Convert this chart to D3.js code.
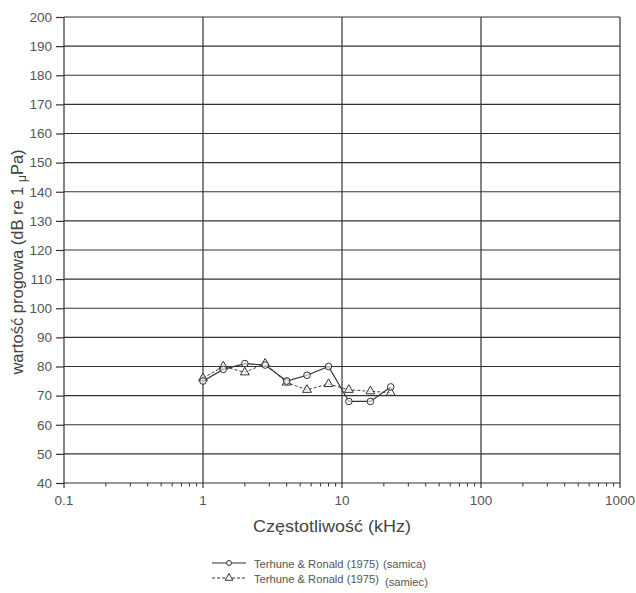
<!DOCTYPE html>
<html>
<head>
<meta charset="utf-8">
<script src="https://cdn.jsdelivr.net/npm/d3@7"></script>
<style>
  body { margin: 0; background: #fff; }
  svg { display: block; font-family: Arial, "Liberation Sans", sans-serif; }
</style>
</head>
<body>
<svg id="chart" width="636" height="593"></svg>
<script>
// Hearing threshold audiogram, Terhune & Ronald (1975)
const freqFemale = [1, 1.4, 2, 2.8, 4, 5.6, 8, 11.2, 16, 22.4];
const dbFemale   = [75, 79, 81, 80.5, 75, 77, 80, 68, 68, 73];
const freqMale   = [1, 1.4, 2, 2.8, 4, 5.6, 8, 11.2, 16, 22.4];
const dbMale     = [76, 80, 78, 81, 74.5, 72, 74, 72, 71.5, 71];
const xTickValues = [0.1, 1, 10, 100, 1000];
const xTickLabels = ["0.1", "1", "10", "100", "1000"];
const yTickValues = d3.range(40, 201, 10);
const legendLabels = ["Terhune & Ronald (1975)", "Terhune & Ronald (1975)"];
const legendTags = ["(samica)", "(samiec)"];

const svg = d3.select("#chart");
const m = { left: 64, right: 620, top: 17, bottom: 483 };

const x = d3.scaleLog().domain([0.1, 1000]).range([m.left, m.right]);
const y = d3.scaleLinear().domain([40, 200]).range([m.bottom, m.top]);

const ink = "#333";
const textCol = "#555";

// horizontal grid
svg.append("g").selectAll("line").data(yTickValues).join("line")
  .attr("x1", m.left).attr("x2", m.right)
  .attr("y1", d => y(d)).attr("y2", d => y(d))
  .attr("stroke", ink).attr("stroke-width", 1.2);

// vertical grid at decades
svg.append("g").selectAll("line").data(xTickValues).join("line")
  .attr("x1", d => x(d)).attr("x2", d => x(d))
  .attr("y1", m.top).attr("y2", m.bottom + 5)
  .attr("stroke", ink).attr("stroke-width", 1.2);

// y axis ticks and labels
const yAxis = d3.axisLeft(y).tickValues(yTickValues).tickSize(8).tickPadding(4);
const gy = svg.append("g").attr("transform", `translate(${m.left},0)`).call(yAxis);
gy.select(".domain").remove();
gy.selectAll(".tick line").attr("stroke", ink).attr("stroke-width", 1.2);
gy.selectAll(".tick text").attr("fill", textCol).style("font-size", "13.5px")
  .style("font-family", "Arial, 'Liberation Sans', sans-serif");

// x minor ticks
const minor = [];
for (let dec = 0.1; dec < 1000; dec *= 10) {
  for (let k = 2; k <= 9; k++) minor.push(+(dec * k).toPrecision(3));
}
svg.append("g").selectAll("line").data(minor).join("line")
  .attr("x1", d => x(d)).attr("x2", d => x(d))
  .attr("y1", m.bottom).attr("y2", m.bottom + 3.5)
  .attr("stroke", ink).attr("stroke-width", 1);

// x labels
svg.append("g").selectAll("text").data(xTickValues).join("text")
  .attr("x", d => x(d)).attr("y", 505)
  .attr("text-anchor", "middle")
  .attr("fill", textCol).style("font-size", "13.5px")
  .text((d, i) => xTickLabels[i]);

// axis titles
svg.append("text").attr("x", 253).attr("y", 532)
  .attr("fill", "#444").attr("textLength", 158).attr("lengthAdjust", "spacingAndGlyphs")
  .style("font-size", "16.5px").text("Częstotliwość (kHz)");

const yt = svg.append("text")
  .attr("transform", "translate(23,262) rotate(-90)")
  .attr("text-anchor", "middle").attr("fill", "#444")
  .style("font-size", "16.5px");
yt.append("tspan").text("wartość progowa (dB re 1 ");
yt.append("tspan").attr("dy", 3).style("font-size", "12px").text("μ");
yt.append("tspan").attr("dy", -3).text("Pa)");

// series
const female = freqFemale.map((f, i) => ({ f, v: dbFemale[i] }));
const male = freqMale.map((f, i) => ({ f, v: dbMale[i] }));
const line = d3.line().x(d => x(d.f)).y(d => y(d.v));

svg.append("path").datum(male).attr("d", line)
  .attr("fill", "none").attr("stroke", "#444").attr("stroke-width", 1)
  .attr("stroke-dasharray", "3,2");
svg.append("path").datum(female).attr("d", line)
  .attr("fill", "none").attr("stroke", "#333").attr("stroke-width", 1.2);

const tri = d3.symbol().type(d3.symbolTriangle).size(34);
svg.append("g").selectAll("path").data(male).join("path")
  .attr("d", tri)
  .attr("transform", d => `translate(${x(d.f)},${y(d.v)})`)
  .attr("fill", "#fff").attr("fill-opacity", 0.6).attr("stroke", "#333").attr("stroke-width", 1);

svg.append("g").selectAll("circle").data(female).join("circle")
  .attr("cx", d => x(d.f)).attr("cy", d => y(d.v)).attr("r", 3.3)
  .attr("fill", "#fff").attr("fill-opacity", 0.6).attr("stroke", "#333").attr("stroke-width", 1);

// legend
const lg = svg.append("g");
const rows = [563, 578];
const tagX = [383, 385];
const tagDy = [0, 3];
rows.forEach((ry, i) => {
  lg.append("line").attr("x1", 212).attr("x2", 246).attr("y1", ry).attr("y2", ry)
    .attr("stroke", "#333").attr("stroke-width", 1)
    .attr("stroke-dasharray", i === 1 ? "3,2" : null);
  if (i === 0) {
    lg.append("circle").attr("cx", 229).attr("cy", ry).attr("r", 2.5)
      .attr("fill", "#fff").attr("stroke", "#333");
  } else {
    lg.append("path").attr("d", d3.symbol().type(d3.symbolTriangle).size(26))
      .attr("transform", `translate(229,${ry})`)
      .attr("fill", "#fff").attr("stroke", "#333");
  }
  lg.append("text").attr("x", 254).attr("y", ry + 4.5)
    .attr("fill", textCol).style("font-size", "11.2px").text(legendLabels[i]);
  lg.append("text").attr("x", tagX[i]).attr("y", ry + 4.5 + tagDy[i])
    .attr("fill", textCol).style("font-size", "11.2px").text(legendTags[i]);
});
</script>
</body>
</html>
